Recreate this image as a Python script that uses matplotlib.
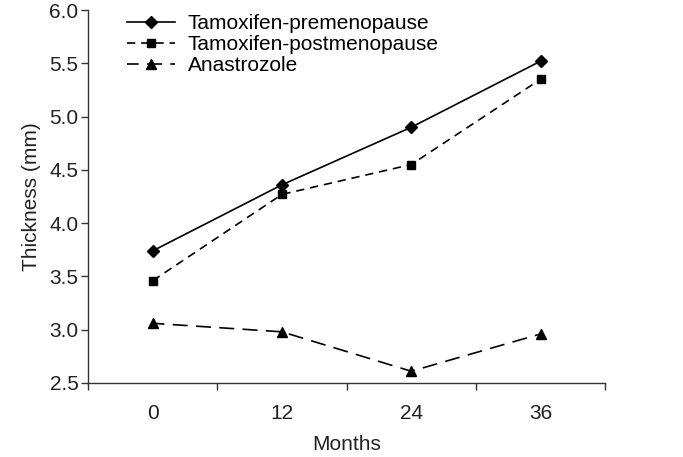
import matplotlib

matplotlib.use("Agg")
import matplotlib.pyplot as plt

plt.rcParams["font.family"] = ["Liberation Sans", "DejaVu Sans"]

months = ["0", "12", "24", "36"]
tam_pre = [3.74, 4.36, 4.90, 5.52]
tam_post = [3.46, 4.27, 4.55, 5.35]
anastrozole = [3.06, 2.98, 2.61, 2.96]

fig = plt.figure(figsize=(6.83, 4.57), dpi=100)
ax = fig.add_axes([0.129, 0.162, 0.757, 0.816])

x = range(len(months))
ax.plot(x, tam_pre, color="black", lw=1.2, marker="D", ms=6.5, label="Tamoxifen-premenopause")
ax.plot(x, tam_post, color="black", lw=1.2, ls=(0, (5, 3.5)), marker="s", ms=6,
        label="Tamoxifen-postmenopause")
ax.plot(x, anastrozole, color="black", lw=1.2, ls=(2, (9, 5)), marker="^", ms=7.5,
        label="Anastrozole")

ax.set_xlim(-0.5, 3.5)
ax.set_ylim(2.5, 6.0)
ax.set_yticks([2.5, 3.0, 3.5, 4.0, 4.5, 5.0, 5.5, 6.0])
ax.set_yticklabels([f"{v:.1f}" for v in ax.get_yticks()])
# tick marks between categories, labels centred
ax.set_xticks([-0.5, 0.5, 1.5, 2.5, 3.5])
ax.set_xticklabels([])
ax.set_xticks(list(x), minor=True)
ax.set_xticklabels(months, minor=True)
ax.tick_params(axis="both", which="major", length=5, width=1, direction="out", colors="#333333")
ax.tick_params(axis="y", pad=2, labelsize=15, labelcolor="#222222")
ax.tick_params(axis="x", which="minor", length=0, pad=15, labelsize=15, labelcolor="#222222")

for side in ("top", "right"):
    ax.spines[side].set_visible(False)
for side in ("left", "bottom"):
    ax.spines[side].set_color("#333333")
    ax.spines[side].set_linewidth(1)

ax.set_ylabel("Thickness (mm)", fontsize=15, color="#222222", labelpad=6)
ax.set_xlabel("Months", fontsize=15, color="#222222", labelpad=9)

ax.legend(loc="upper left", bbox_to_anchor=(0.06, 1.012), frameon=False, fontsize=15,
          handlelength=2.3, handletextpad=0.6, labelspacing=0.1, borderaxespad=0)

fig.savefig("out.png", dpi=100)
